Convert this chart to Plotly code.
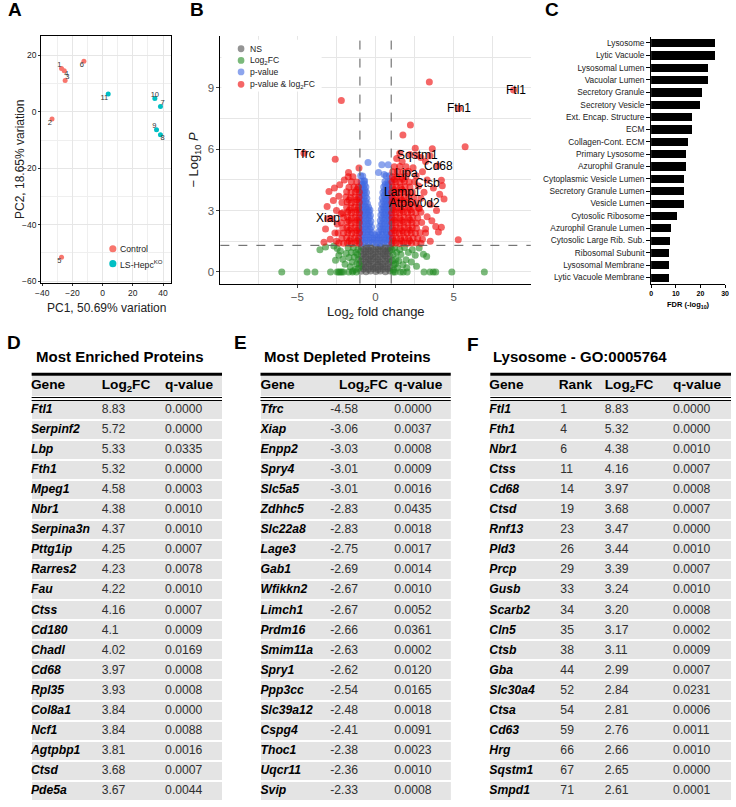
import plotly.graph_objects as go

W, H = 736, 807

# ---------------- Panel A: PCA ----------------
pca_labels = ["1", "2", "3", "4", "5", "6", "7", "8", "9", "10", "11"]
pca_pc1 = [-27.2, -33.5, -24.8, -25.4, -27.2, -12.4, 38.3, 38.3, 35.7, 34.6, 3.7]
pca_pc2 = [15.3, -2.6, 11.1, 14.5, -51.5, 17.9, 1.9, -8.1, -6.4, 4.7, 6.3]
pca_group = ["Control", "Control", "Control", "Control", "Control", "Control",
             "KO", "KO", "KO", "KO", "KO"]

# ---------------- Panel B: volcano ----------------
ns_points = [
    (-0.93, 0.03), (-0.61, 0.01), (-0.32, 0.04), (0.02, 0.02), (0.30, 0.05), (0.63, 0.01), (0.92, 0.04),
    (-0.77, 0.14), (-0.46, 0.13), (-0.15, 0.15), (0.16, 0.12), (0.47, 0.14), (0.78, 0.16),
    (-0.90, 0.27), (-0.64, 0.24), (-0.29, 0.26), (-0.01, 0.23), (0.33, 0.27), (0.60, 0.25), (0.94, 0.22),
    (-0.77, 0.38), (-0.44, 0.39), (-0.16, 0.37), (0.15, 0.36), (0.45, 0.37), (0.79, 0.39),
    (-0.95, 0.52), (-0.60, 0.49), (-0.34, 0.53), (0.03, 0.50), (0.28, 0.48), (0.65, 0.52), (0.91, 0.50),
    (-0.78, 0.63), (-0.45, 0.62), (-0.16, 0.64), (0.15, 0.61), (0.46, 0.63), (0.77, 0.65),
    (-0.91, 0.76), (-0.63, 0.74), (-0.30, 0.77), (-0.02, 0.73), (0.32, 0.76), (0.61, 0.78), (0.93, 0.75),
    (-0.76, 0.88), (-0.47, 0.87), (-0.15, 0.88), (0.16, 0.86), (0.48, 0.89), (0.76, 0.89),
    (-0.94, 1.01), (-0.62, 0.99), (-0.33, 1.02), (0.01, 0.98), (0.29, 1.01), (0.64, 1.00), (0.90, 1.03),
    (-0.76, 1.11), (-0.47, 1.12), (-0.14, 1.10), (0.17, 1.13), (0.48, 1.11), (0.79, 1.12),
    (-0.92, 1.22), (-0.59, 1.24), (-0.31, 1.21), (0.04, 1.23), (0.31, 1.25), (0.62, 1.22), (0.95, 1.20),
]

fc_points = [
    (-6.00, 0.0), (-4.38, 0.0), (-3.88, 0.0), (-2.88, 0.0), (-2.46, 0.0), (-2.36, 0.0), (-2.27, 0.0),
    (-2.17, 0.0), (-2.06, 0.0), (-1.72, 0.0), (-1.48, 0.0), (-1.22, 0.0),
    (1.13, 0.0), (1.25, 0.0), (1.60, 0.0), (1.77, 0.0), (2.02, 0.0), (3.10, 0.0), (3.48, 0.0),
    (3.69, 0.0), (3.85, 0.0), (4.88, 0.0), (6.96, 0.0),
    (-3.56, 1.09), (-3.20, 1.22), (-2.67, 1.27), (-2.35, 0.81), (-2.56, 0.57), (-2.25, 1.02),
    (-2.45, 1.15), (-2.10, 0.62), (-1.95, 0.38), (-1.88, 0.90), (-1.70, 0.70), (-1.75, 1.18),
    (-1.62, 0.25), (-1.55, 0.95), (-1.50, 0.48), (-1.42, 1.20), (-1.35, 0.72), (-1.30, 0.12),
    (-1.25, 0.95), (-1.20, 0.40), (-1.12, 1.10), (-1.10, 0.62), (-1.08, 0.18), (-1.15, 0.85),
    (-1.45, 0.05), (-1.05, 0.38),
    (2.79, 1.17), (3.06, 0.86), (3.27, 0.76), (2.29, 0.49), (2.54, 0.81), (2.62, 0.28), (2.35, 1.08),
    (2.10, 0.95), (1.95, 0.60), (1.85, 1.20), (1.75, 0.35), (1.62, 0.85), (1.55, 1.10), (1.48, 0.55),
    (1.40, 0.20), (1.35, 0.95), (1.30, 0.62), (1.22, 1.18), (1.18, 0.35), (1.12, 0.85), (1.08, 0.55),
    (1.05, 1.10), (1.15, 0.10), (1.28, 0.40), (2.00, 0.20),
]

p_points = [
    (-0.95, 1.42), (-0.70, 1.43), (-0.45, 1.41), (-0.20, 1.44), (0.05, 1.42), (0.28, 1.40), (0.52, 1.43), (0.76, 1.41), (0.97, 1.44),
    (-0.93, 1.68), (-0.68, 1.67), (-0.42, 1.70), (-0.18, 1.66), (0.07, 1.69), (0.30, 1.68), (0.55, 1.66), (0.78, 1.70), (0.96, 1.67),
    (-0.96, 1.95), (-0.72, 1.94), (-0.47, 1.96), (-0.24, 1.93), (0.20, 1.95), (0.45, 1.97), (0.70, 1.94), (0.94, 1.96),
    (-0.94, 2.22), (-0.70, 2.21), (-0.46, 2.24), (-0.26, 2.20), (0.27, 2.23), (0.48, 2.21), (0.72, 2.22), (0.95, 2.24),
    (-0.97, 2.50), (-0.74, 2.49), (-0.50, 2.51), (-0.30, 2.48), (0.30, 2.50), (0.52, 2.52), (0.75, 2.49), (0.96, 2.51),
    (-0.93, 2.78), (-0.71, 2.77), (-0.49, 2.79), (-0.33, 2.76), (0.34, 2.78), (0.55, 2.80), (0.77, 2.77), (0.95, 2.79),
    (-0.96, 3.05), (-0.75, 3.04), (-0.53, 3.06), (-0.36, 3.03), (0.37, 3.05), (0.57, 3.07), (0.78, 3.04), (0.97, 3.06),
    (-0.94, 3.32), (-0.73, 3.31), (-0.52, 3.33), (0.40, 3.32), (0.60, 3.30), (0.80, 3.33), (0.95, 3.31),
    (-0.95, 3.60), (-0.76, 3.59), (-0.56, 3.61), (0.43, 3.60), (0.62, 3.58), (0.83, 3.61), (0.97, 3.59),
    (-0.93, 3.88), (-0.74, 3.87), (-0.58, 3.89), (0.47, 3.88), (0.66, 3.86), (0.85, 3.89), (0.96, 3.87),
    (-0.96, 4.15), (-0.78, 4.14), (-0.62, 4.16), (0.52, 4.15), (0.70, 4.13), (0.88, 4.16),
    (-0.92, 4.42), (-0.75, 4.43), (0.60, 4.42), (0.79, 4.41), (0.95, 4.43),
    (-0.95, 4.70), (-0.82, 4.69), (0.67, 4.70), (0.90, 4.71), (0.19, 4.87), (0.55, 4.77),
    (-0.48, 5.35), (0.40, 5.24), (0.81, 5.24), (-0.70, 4.46),
    (-0.82, 1.55), (-0.57, 1.56), (-0.32, 1.54), (-0.08, 1.55), (0.17, 1.56), (0.40, 1.54), (0.64, 1.55), (0.87, 1.56),
    (-0.82, 1.82), (-0.55, 1.81), (-0.30, 1.83), (-0.05, 1.82), (0.18, 1.81), (0.42, 1.83), (0.66, 1.82), (0.87, 1.81),
    (-0.84, 2.08), (-0.60, 2.09), (-0.36, 2.07), (0.35, 2.08), (0.58, 2.09), (0.82, 2.07),
    (-0.82, 2.36), (-0.58, 2.35), (-0.38, 2.37), (0.38, 2.36), (0.60, 2.35), (0.84, 2.37),
    (-0.86, 2.64), (-0.62, 2.63), (-0.40, 2.65), (0.42, 2.64), (0.64, 2.63), (0.86, 2.65),
    (-0.82, 2.92), (-0.60, 2.91), (-0.42, 2.93), (0.45, 2.92), (0.66, 2.91), (0.86, 2.93),
    (-0.85, 3.18), (-0.64, 3.19), (-0.45, 3.17), (0.48, 3.18), (0.68, 3.19), (0.88, 3.17),
    (-0.84, 3.46), (-0.63, 3.45), (0.50, 3.46), (0.71, 3.47), (0.88, 3.45),
    (-0.86, 3.74), (-0.66, 3.73), (0.55, 3.74), (0.73, 3.75), (0.90, 3.73),
    (-0.84, 4.00), (-0.68, 4.01), (0.58, 4.00), (0.76, 3.99), (0.91, 4.01),
    (-0.87, 4.28), (-0.70, 4.29), (0.62, 4.28), (0.80, 4.27),
]

both_points = [
    # right core
    (1.05, 1.40), (1.30, 1.41), (1.55, 1.39), (1.80, 1.42), (2.05, 1.40), (2.30, 1.41), (2.60, 1.43), (2.90, 1.40),
    (1.08, 1.65), (1.33, 1.66), (1.60, 1.64), (1.85, 1.67), (2.10, 1.65), (2.40, 1.66), (2.70, 1.64),
    (1.04, 1.90), (1.28, 1.91), (1.52, 1.89), (1.78, 1.92), (2.02, 1.90), (2.28, 1.91), (2.55, 1.89), (2.85, 1.92), (3.20, 1.90),
    (1.07, 2.15), (1.32, 2.16), (1.57, 2.14), (1.83, 2.17), (2.08, 2.15), (2.35, 2.16), (2.62, 2.14),
    (1.05, 2.40), (1.30, 2.41), (1.56, 2.39), (1.80, 2.42), (2.06, 2.40), (2.33, 2.41), (2.60, 2.39), (2.95, 2.42),
    (1.06, 2.65), (1.31, 2.66), (1.55, 2.64), (1.82, 2.67), (2.10, 2.65), (2.38, 2.66), (2.70, 2.64),
    (1.04, 2.90), (1.29, 2.91), (1.54, 2.89), (1.79, 2.92), (2.05, 2.90), (2.30, 2.91), (2.58, 2.89), (2.90, 2.92),
    (1.08, 3.15), (1.33, 3.16), (1.58, 3.14), (1.84, 3.17), (2.10, 3.15), (2.40, 3.16), (2.75, 3.14),
    (1.05, 3.40), (1.30, 3.41), (1.55, 3.39), (1.80, 3.42), (2.05, 3.40), (2.32, 3.41), (2.60, 3.39),
    (1.06, 3.65), (1.32, 3.66), (1.57, 3.64), (1.83, 3.67), (2.12, 3.65), (2.45, 3.66),
    (1.04, 3.90), (1.29, 3.91), (1.54, 3.89), (1.80, 3.92), (2.07, 3.90), (2.35, 3.91),
    (1.07, 4.15), (1.33, 4.16), (1.60, 4.14), (1.88, 4.17), (2.20, 4.15),
    (1.05, 4.40), (1.30, 4.41), (1.56, 4.39), (1.85, 4.42), (2.15, 4.40), (2.50, 4.41),
    (1.08, 4.65), (1.35, 4.66), (1.62, 4.64), (1.95, 4.67),
    (1.10, 4.90), (1.40, 4.91), (1.75, 4.89), (2.10, 4.92),
    (1.20, 5.15), (1.55, 5.16), (1.95, 5.14),
    (1.18, 1.52), (1.68, 1.53), (2.18, 1.52), (1.20, 2.03), (1.70, 2.02), (2.20, 2.04), (1.19, 2.53),
    (1.69, 2.52), (2.21, 2.54), (1.18, 3.03), (1.68, 3.02), (2.22, 3.04), (1.19, 3.53), (1.70, 3.52),
    (1.18, 4.02), (1.69, 4.03), (1.20, 4.52), (1.72, 4.53),
    # right periphery
    (3.44, 9.29), (2.23, 7.19), (1.75, 6.70), (5.73, 6.12), (5.29, 1.57), (2.54, 6.05), (3.63, 6.02),
    (3.48, 5.68), (4.21, 4.48), (4.38, 3.57), (4.27, 4.22), (3.85, 2.22), (4.21, 2.19), (4.02, 1.95),
    (3.20, 5.40), (2.90, 5.60), (2.20, 5.75), (1.35, 5.55), (1.70, 5.40), (3.00, 4.90), (3.30, 4.50),
    (3.70, 4.10), (3.10, 3.90), (3.50, 3.30), (2.90, 3.60), (3.30, 2.70), (3.60, 2.50), (3.20, 2.10),
    (3.00, 1.60), (3.50, 1.50), (2.80, 3.10), (3.90, 3.00), (4.10, 3.80), (2.60, 4.70), (2.40, 5.10),
    (1.55, 5.80), (2.75, 4.20),
    # left core
    (-1.05, 1.40), (-1.30, 1.41), (-1.55, 1.39), (-1.80, 1.42), (-2.05, 1.40), (-2.35, 1.41),
    (-1.08, 1.65), (-1.33, 1.66), (-1.58, 1.64), (-1.85, 1.67), (-2.15, 1.65),
    (-1.04, 1.90), (-1.28, 1.91), (-1.52, 1.89), (-1.78, 1.92), (-2.05, 1.90), (-2.40, 1.91),
    (-1.07, 2.15), (-1.32, 2.16), (-1.57, 2.14), (-1.83, 2.17), (-2.10, 2.15),
    (-1.05, 2.40), (-1.30, 2.41), (-1.56, 2.39), (-1.82, 2.42), (-2.20, 2.40),
    (-1.06, 2.65), (-1.31, 2.66), (-1.55, 2.64), (-1.80, 2.67), (-2.05, 2.65),
    (-1.04, 2.90), (-1.29, 2.91), (-1.54, 2.89), (-1.79, 2.92), (-2.10, 2.90),
    (-1.08, 3.15), (-1.33, 3.16), (-1.58, 3.14), (-1.85, 3.17),
    (-1.05, 3.40), (-1.30, 3.41), (-1.55, 3.39), (-1.82, 3.42), (-2.15, 3.40),
    (-1.06, 3.65), (-1.32, 3.66), (-1.60, 3.64), (-1.90, 3.67),
    (-1.04, 3.90), (-1.30, 3.91), (-1.57, 3.89), (-1.85, 3.92),
    (-1.10, 4.15), (-1.38, 4.16), (-1.70, 4.14),
    (-1.20, 4.40), (-1.55, 4.41), (-1.45, 4.65), (-1.75, 4.66),
    (-1.18, 1.53), (-1.68, 1.52), (-1.19, 2.03), (-1.69, 2.04), (-1.18, 2.53), (-1.70, 2.52),
    (-1.19, 3.03), (-1.68, 3.02), (-1.20, 3.53), (-1.70, 3.52), (-1.19, 4.03),
    # left periphery
    (-2.19, 8.39), (-2.58, 5.51), (-1.73, 4.87), (-1.06, 5.09), (-2.29, 4.27), (-2.98, 3.93), (-2.63, 4.10),
    (-2.70, 3.50), (-3.10, 3.20), (-2.50, 3.00), (-2.80, 2.60), (-2.45, 2.35), (-3.20, 2.10), (-2.60, 1.90),
    (-2.90, 1.60), (-3.30, 1.45), (-2.50, 1.50), (-2.35, 3.70), (-2.00, 4.50), (-2.20, 2.85),
    # labelled genes
    (8.83, 8.90), (5.32, 8.00), (-4.58, 5.80), (-3.06, 2.60), (2.65, 5.70), (3.97, 5.20),
]

volc_labels = ["Ftl1", "Fth1", "Tfrc", "Xiap", "Sqstm1", "Cd68", "Lipa", "Ctsb", "Lamp1", "Atp6v0d2"]
volc_label_x = [9.0, 5.35, -4.55, -3.05, 2.68, 4.04, 1.96, 3.3, 1.73, 2.46]
volc_label_y = [8.89, 8.03, 5.79, 2.64, 5.70, 5.19, 4.82, 4.37, 3.92, 3.39]

# ---------------- Panel C: GO enrichment ----------------
go_terms = ["Lysosome", "Lytic Vacuole", "Lysosomal Lumen", "Vacuolar Lumen", "Secretory Granule",
            "Secretory Vesicle", "Ext. Encap. Structure", "ECM", "Collagen-Cont. ECM", "Primary Lysosome",
            "Azurophil Granule", "Cytoplasmic Vesicle Lumen", "Secretory Granule Lumen", "Vesicle Lumen",
            "Cytosolic Ribosome", "Azurophil Granule Lumen", "Cytosolic Large Rib. Sub.", "Ribosomal Subunit",
            "Lysosomal Membrane", "Lytic Vacuole Membrane"]
go_fdr = [25.8, 25.8, 23.0, 23.0, 20.6, 20.0, 16.6, 16.6, 15.0, 14.3, 14.3, 13.4, 13.4, 13.3,
          10.4, 8.0, 7.8, 7.4, 7.2, 7.2]

# ---------------- Tables ----------------
enr_gene = ["Ftl1", "Serpinf2", "Lbp", "Fth1", "Mpeg1", "Nbr1", "Serpina3n", "Pttg1ip", "Rarres2", "Fau",
            "Ctss", "Cd180", "Chadl", "Cd68", "Rpl35", "Col8a1", "Ncf1", "Agtpbp1", "Ctsd", "Pde5a"]
enr_fc = ["8.83", "5.72", "5.33", "5.32", "4.58", "4.38", "4.37", "4.25", "4.23", "4.22",
          "4.16", "4.1", "4.02", "3.97", "3.93", "3.84", "3.84", "3.81", "3.68", "3.67"]
enr_q = ["0.0000", "0.0000", "0.0335", "0.0000", "0.0003", "0.0010", "0.0010", "0.0007", "0.0078", "0.0010",
         "0.0007", "0.0009", "0.0169", "0.0008", "0.0008", "0.0000", "0.0088", "0.0016", "0.0007", "0.0044"]

dep_gene = ["Tfrc", "Xiap", "Enpp2", "Spry4", "Slc5a5", "Zdhhc5", "Slc22a8", "Lage3", "Gab1", "Wfikkn2",
            "Limch1", "Prdm16", "Smim11a", "Spry1", "Ppp3cc", "Slc39a12", "Cspg4", "Thoc1", "Uqcr11", "Svip"]
dep_fc = ["-4.58", "-3.06", "-3.03", "-3.01", "-3.01", "-2.83", "-2.83", "-2.75", "-2.69", "-2.67",
          "-2.67", "-2.66", "-2.63", "-2.62", "-2.54", "-2.48", "-2.41", "-2.38", "-2.36", "-2.33"]
dep_q = ["0.0000", "0.0037", "0.0008", "0.0009", "0.0016", "0.0435", "0.0018", "0.0017", "0.0014", "0.0010",
         "0.0052", "0.0361", "0.0002", "0.0120", "0.0165", "0.0018", "0.0091", "0.0023", "0.0010", "0.0008"]

lys_gene = ["Ftl1", "Fth1", "Nbr1", "Ctss", "Cd68", "Ctsd", "Rnf13", "Pld3", "Prcp", "Gusb",
            "Scarb2", "Cln5", "Ctsb", "Gba", "Slc30a4", "Ctsa", "Cd63", "Hrg", "Sqstm1", "Smpd1"]
lys_rank = ["1", "4", "6", "11", "14", "19", "23", "26", "29", "33",
            "34", "35", "38", "44", "52", "54", "59", "66", "67", "71"]
lys_fc = ["8.83", "5.32", "4.38", "4.16", "3.97", "3.68", "3.47", "3.44", "3.39", "3.24",
          "3.20", "3.17", "3.11", "2.99", "2.84", "2.81", "2.76", "2.66", "2.65", "2.61"]
lys_q = ["0.0000", "0.0000", "0.0010", "0.0007", "0.0008", "0.0007", "0.0000", "0.0010", "0.0007", "0.0010",
         "0.0008", "0.0002", "0.0009", "0.0007", "0.0231", "0.0006", "0.0011", "0.0010", "0.0000", "0.0001"]

# ======================================================================
FONT = "Arial, Liberation Sans, Helvetica, sans-serif"
C_CTRL, C_KO = "#F8766D", "#00BFC4"
C_NS, C_FC, C_P, C_BOTH = "#4D4D4D", "#228B22", "#4169E1", "#EE0000"


def fx(p):
    return p / W


def fy(p):
    return 1 - p / H


fig = go.Figure()

# ---- A ----
for grp, col in (("Control", C_CTRL), ("KO", C_KO)):
    xs = [x for x, g in zip(pca_pc1, pca_group) if g == grp]
    ys = [y for y, g in zip(pca_pc2, pca_group) if g == grp]
    fig.add_trace(go.Scatter(x=xs, y=ys, mode="markers", marker=dict(color=col, size=5),
                             xaxis="x", yaxis="y", hoverinfo="skip", showlegend=False))
pca_textpos = ["top left", "bottom left", "top right", "bottom right", "bottom left", "bottom left",
               "top right", "bottom right", "top left", "top center", "bottom left"]
fig.add_trace(go.Scatter(x=pca_pc1, y=pca_pc2, mode="text", text=pca_labels, textposition=pca_textpos,
                         textfont=dict(family=FONT, size=7.5, color="#333333"),
                         xaxis="x", yaxis="y", hoverinfo="skip", showlegend=False, cliponaxis=False))

# ---- B ----
for pts, col in ((ns_points, C_NS), (fc_points, C_FC), (p_points, C_P), (both_points, C_BOTH)):
    fig.add_trace(go.Scatter(x=[p[0] for p in pts], y=[p[1] for p in pts], mode="markers",
                             marker=dict(color=col, size=7, opacity=0.6, line=dict(width=0)),
                             xaxis="x2", yaxis="y2", hoverinfo="skip", showlegend=False))

# ---- C ----
fig.add_trace(go.Bar(x=go_fdr, y=go_terms, orientation="h", marker=dict(color="black", line=dict(width=0)),
                     width=0.66, xaxis="x3", yaxis="y3", hoverinfo="skip", showlegend=False))

# ---- Tables ----
ROW_PITCH = 20.15
ROW0 = 412.0


def rowv(p):
    return (p - ROW0) / ROW_PITCH


TXT_PAD = 3  # plotly offsets 'middle right' text from its anchor by a few px

tables = [
    dict(ax="4", left=26, right=219, cols=[(enr_gene, 28.3, 28.3, "Gene", True),
                                             (enr_fc, 100, 100, "Log<sub>2</sub>FC", False),
                                             (enr_q, 164.3, 164.3, "q-value", False)]),
    dict(ax="5", left=258, right=451, cols=[(dep_gene, 261, 261, "Gene", True),
                                              (dep_fc, 331.7, 340.7, "Log<sub>2</sub>FC", False),
                                              (dep_q, 396.7, 396.7, "q-value", False)]),
    dict(ax="6", left=491, right=735, cols=[(lys_gene, 493, 493, "Gene", True),
                                              (lys_rank, 565, 563.3, "Rank", False),
                                              (lys_fc, 610, 610, "Log<sub>2</sub>FC", False),
                                              (lys_q, 679.3, 679.3, "q-value", False)]),
]

layout_axes = {}
shapes = []
header_v = rowv(388)
for t in tables:
    xa, ya = "x" + t["ax"], "y" + t["ax"]
    n = len(t["cols"][0][0])
    rows = list(range(n))
    L, R = t["left"], t["right"]
    # x axis of a table is expressed in page pixels; extend a little left so text anchors stay in range
    fig.add_trace(go.Bar(x=[R - L] * n, y=rows, base=L, orientation="h", width=0.9,
                         marker=dict(color="#E4E4E4", line=dict(width=0)),
                         xaxis=xa, yaxis=ya, hoverinfo="skip", showlegend=False))
    fig.add_trace(go.Bar(x=[R - L], y=[header_v], base=L, orientation="h", width=1.0,
                         marker=dict(color="#E4E4E4", line=dict(width=0)),
                         xaxis=xa, yaxis=ya, hoverinfo="skip", showlegend=False))
    for vals, xd, xh, head, is_gene in t["cols"]:
        txt = ["<b><i>%s</i></b>" % v for v in vals] if is_gene else vals
        fig.add_trace(go.Scatter(x=[xd - TXT_PAD] * n, y=rows, mode="text", text=txt,
                                 textposition="middle right",
                                 textfont=dict(family=FONT, size=12.2,
                                               color="black" if is_gene else "#303030"),
                                 xaxis=xa, yaxis=ya, hoverinfo="skip", showlegend=False, cliponaxis=False))
        fig.add_trace(go.Scatter(x=[xh - TXT_PAD], y=[header_v], mode="text",
                                 text=["<b>%s</b>" % head], textposition="middle right",
                                 textfont=dict(family=FONT, size=13.7, color="black"),
                                 xaxis=xa, yaxis=ya, hoverinfo="skip", showlegend=False, cliponaxis=False))
    layout_axes["xaxis" + t["ax"]] = dict(domain=[fx(L - 10), fx(R)], range=[L - 10, R],
                                          visible=False, fixedrange=True, anchor=ya)
    layout_axes["yaxis" + t["ax"]] = dict(domain=[fy(806), fy(372)], range=[rowv(806), rowv(372)],
                                          visible=False, fixedrange=True, anchor=xa)
    shapes.append(dict(type="line", xref=xa, yref=ya, x0=L, x1=R, y0=rowv(376), y1=rowv(376),
                       line=dict(color="black", width=3), layer="above"))
    for p in (399.5, 402.5):
        shapes.append(dict(type="line", xref=xa, yref=ya, x0=L, x1=R, y0=rowv(p), y1=rowv(p),
                           line=dict(color="black", width=1), layer="above"))

# ---- B reference lines ----
for xv in (-1, 1):
    shapes.append(dict(type="line", xref="x2", yref="y2 domain", x0=xv, x1=xv, y0=0, y1=1,
                       line=dict(color="#5A5A5A", width=1, dash="dash"), layer="above"))
shapes.append(dict(type="line", xref="x2 domain", yref="y2", x0=0, x1=1, y0=1.301, y1=1.301,
                   line=dict(color="#5A5A5A", width=1, dash="dash"), layer="above"))

# ---- legends (manual) ----


def circle(cx, cy, r, color, opacity=1.0):
    return dict(type="circle", xref="paper", yref="paper", x0=fx(cx - r), x1=fx(cx + r),
                y0=fy(cy + r), y1=fy(cy - r), fillcolor=color, opacity=opacity,
                line=dict(width=0), layer="above")


shapes.append(dict(type="rect", xref="paper", yref="paper", x0=fx(218.5), x1=fx(320), y0=fy(92), y1=fy(40),
                   fillcolor="white", line=dict(width=0), layer="above"))
annotations = []
for cy, col, lab in ((49, C_NS, "NS"), (60.7, C_FC, "Log<sub>2</sub>FC"), (72.3, C_P, "p-value"),
                     (84.7, C_BOTH, "p-value & log<sub>2</sub>FC")):
    shapes.append(circle(238.3, cy, 3.4, col, 0.6))
    annotations.append(dict(xref="paper", yref="paper", x=fx(245), y=fy(cy), text=lab, showarrow=False,
                            xanchor="left", yanchor="middle", font=dict(family=FONT, size=8.6, color="#222")))
for cy, col, lab in ((250, C_CTRL, "Control"), (265, C_KO, "LS-Hepc<sup>KO</sup>")):
    shapes.append(circle(108.3, cy, 3.6, col, 1.0))
    annotations.append(dict(xref="paper", yref="paper", x=fx(114), y=fy(cy), text=lab, showarrow=False,
                            xanchor="left", yanchor="middle", font=dict(family=FONT, size=8.7, color="#222")))

# volcano gene labels
for lab, x, y in zip(volc_labels, volc_label_x, volc_label_y):
    annotations.append(dict(xref="x2", yref="y2", x=x, y=y, text=lab, showarrow=False,
                            xanchor="center", yanchor="middle", font=dict(family=FONT, size=12, color="black")))

# panel letters
for lab, cx, cy in (("A", 9, 10), ("B", 194, 10), ("C", 554, 10), ("D", 8, 344), ("E", 238, 344), ("F", 473, 346)):
    annotations.append(dict(xref="paper", yref="paper", x=fx(cx), y=fy(cy), text="<b>%s</b>" % lab,
                            showarrow=False, xanchor="center", yanchor="middle",
                            font=dict(family=FONT, size=19, color="black")))

# table titles
for lab, lx in (("Most Enriched Proteins", 28), ("Most Depleted Proteins", 260), ("Lysosome - GO:0005764", 492)):
    annotations.append(dict(xref="paper", yref="paper", x=fx(lx), y=fy(358), text="<b>%s</b>" % lab,
                            showarrow=False, xanchor="left", yanchor="middle",
                            font=dict(family=FONT, size=15, color="black")))

# axis titles
annotations += [
    dict(xref="paper", yref="paper", x=fx(101.5), y=fy(310), text="PC1, 50.69% variation", showarrow=False,
         xanchor="center", yanchor="middle", font=dict(family=FONT, size=12, color="#222")),
    dict(xref="paper", yref="paper", x=fx(14), y=fy(160), text="PC2, 18.65% variation", showarrow=False,
         textangle=-90, xanchor="center", yanchor="middle", font=dict(family=FONT, size=12, color="#222")),
    dict(xref="paper", yref="paper", x=fx(375), y=fy(314), text="Log<sub>2</sub> fold change", showarrow=False,
         xanchor="center", yanchor="middle", font=dict(family=FONT, size=13, color="#222")),
    dict(xref="paper", yref="paper", x=fx(191), y=fy(160), text="\u2212 Log<sub>10</sub> <i>P</i>", showarrow=False,
         textangle=-90, xanchor="center", yanchor="middle", font=dict(family=FONT, size=13, color="#222")),
    dict(xref="paper", yref="paper", x=fx(691.5), y=fy(307), text="<b>FDR (-log<sub>10</sub>)</b>", showarrow=False,
         xanchor="center", yanchor="middle", font=dict(family=FONT, size=7.5, color="black")),
]

GRID, MINOR = "#E6E6E6", "#EFEFEF"
layout_axes.update(
    xaxis=dict(domain=[fx(35.7), fx(167.3)], range=[-40.65, 45.3], tickvals=[-40, -20, 0, 20, 40],
               showgrid=True, gridcolor=GRID, gridwidth=1,
               minor=dict(tickvals=[-30, -10, 10, 30], showgrid=True, gridcolor=MINOR, gridwidth=0.6, ticks=""),
               showline=True, mirror=True, linecolor="black", linewidth=1, ticks="outside", ticklen=2,
               tickcolor="#333", tickfont=dict(family=FONT, size=8.5, color="#222"), zeroline=False,
               anchor="y", fixedrange=True),
    yaxis=dict(domain=[fy(284), fy(36)], range=[-60.5, 26.9], tickvals=[-60, -40, -20, 0, 20],
               showgrid=True, gridcolor=GRID, gridwidth=1,
               minor=dict(tickvals=[-50, -30, -10, 10], showgrid=True, gridcolor=MINOR, gridwidth=0.6, ticks=""),
               showline=True, mirror=True, linecolor="black", linewidth=1, ticks="outside", ticklen=2,
               tickcolor="#333", tickfont=dict(family=FONT, size=8.5, color="#222"), zeroline=False,
               anchor="x", fixedrange=True),
    xaxis2=dict(domain=[fx(217.3), fx(532)], range=[-9.93, 9.93], tickvals=[-5, 0, 5],
                showgrid=True, gridcolor=GRID, gridwidth=1,
                minor=dict(tickvals=[-7.5, -2.5, 2.5, 7.5], showgrid=True, gridcolor=GRID, gridwidth=0.7, ticks=""),
                showline=True, mirror=False, linecolor="black", linewidth=1, ticks="outside", ticklen=3,
                tickcolor="#444", tickfont=dict(family=FONT, size=11.5, color="#555"), zeroline=False,
                anchor="y2", fixedrange=True),
    yaxis2=dict(domain=[fy(285), fy(36)], range=[-0.57, 11.55], tickvals=[0, 3, 6, 9],
                showgrid=True, gridcolor=GRID, gridwidth=1,
                minor=dict(tickvals=[1.5, 4.5, 7.5, 10.5], showgrid=True, gridcolor=GRID, gridwidth=0.7, ticks=""),
                showline=True, mirror=False, linecolor="black", linewidth=1, ticks="outside", ticklen=3,
                tickcolor="#444", tickfont=dict(family=FONT, size=11.5, color="#555"), zeroline=False,
                anchor="x2", fixedrange=True),
    xaxis3=dict(domain=[fx(654), fx(729)], range=[0, 30], tickvals=[0, 10, 20, 30], showgrid=False,
                showline=True, linecolor="black", linewidth=1, ticks="outside", ticklen=3, tickcolor="black",
                tickfont=dict(family=FONT, size=7, color="black", weight="bold"), zeroline=False,
                anchor="y3", fixedrange=True),
    yaxis3=dict(domain=[fy(285), fy(37)], autorange="reversed", type="category", showgrid=False,
                showline=True, linecolor="black", linewidth=1, ticks="outside", ticklen=4, tickcolor="black",
                tickfont=dict(family=FONT, size=8.3, color="#222"), anchor="x3", fixedrange=True),
)

fig.update_layout(
    width=W, height=H, autosize=False,
    margin=dict(l=0, r=0, t=0, b=0),
    paper_bgcolor="white", plot_bgcolor="rgba(0,0,0,0)",
    showlegend=False, barmode="overlay", bargap=0,
    shapes=shapes, annotations=annotations,
    font=dict(family=FONT),
    **layout_axes,
)

# remove the browser's default 8px page margin so the figure sits at the window's top-left corner
fig.write_html("out.html", config={"displayModeBar": False},
               post_script="document.body.style.margin='0';document.body.style.overflow='hidden';")
